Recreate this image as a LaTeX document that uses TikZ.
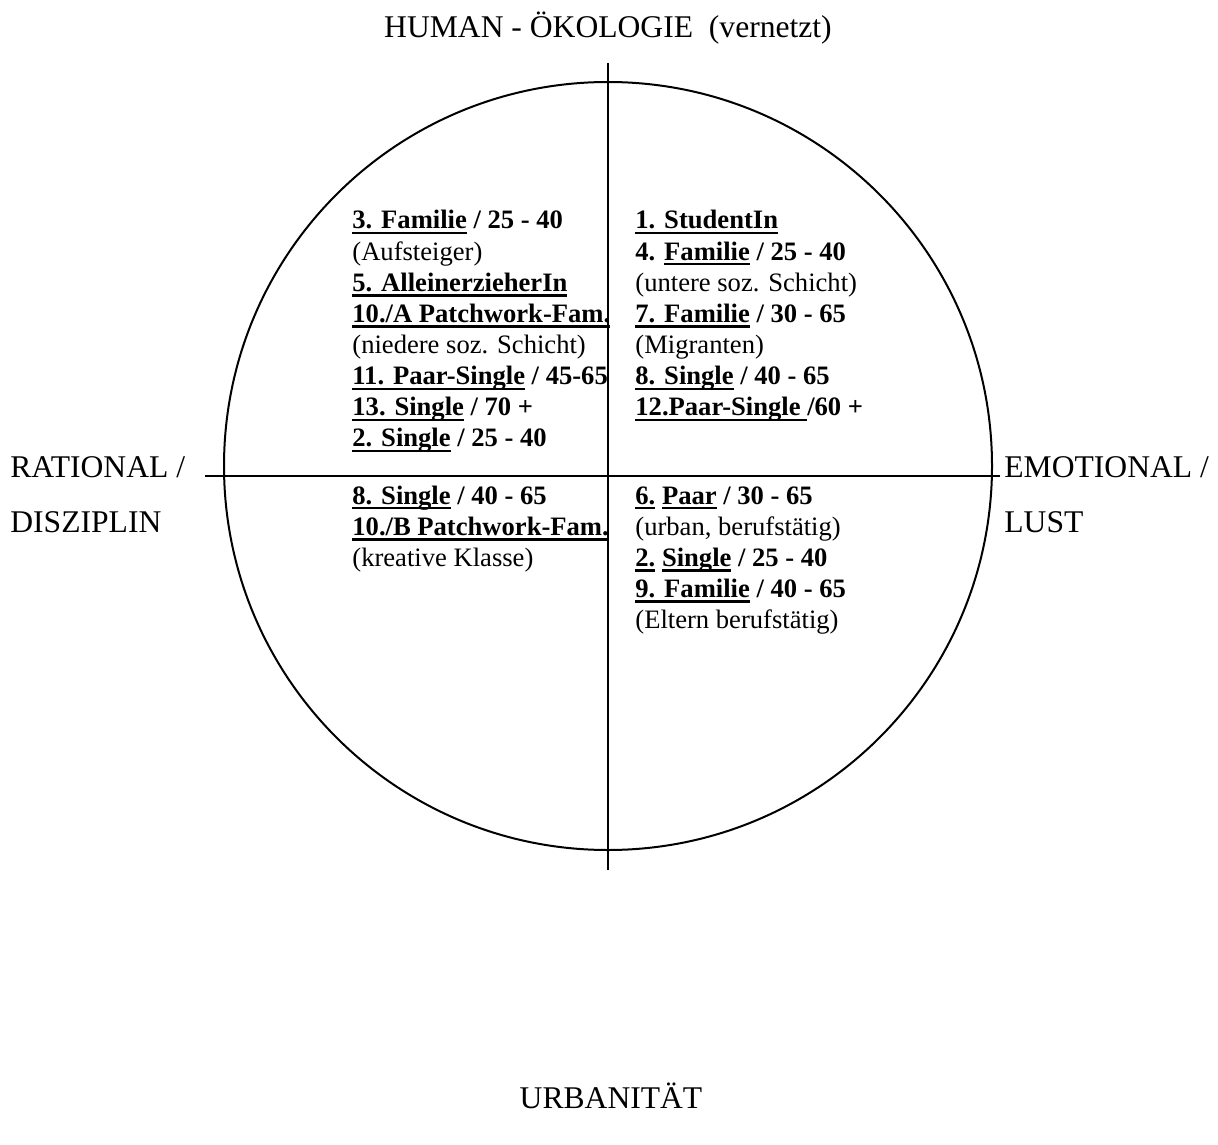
\documentclass[tikz,border=0pt]{standalone}
\usepackage{fontspec}
\setmainfont{Liberation Serif}

% underline at a fixed depth below the baseline
\newcommand\ulx[1]{\setbox0\hbox{#1}\leavevmode\rlap{\vrule height -1.5pt depth 2.7pt width \wd0}\box0\relax}
% a stack of lines whose reference point is the first baseline
\newcommand\stackrows[2]{\vtop{\baselineskip=#1\lineskiplimit=-10pt #2}}
\newcommand\brow[1]{\hbox{\bfseries #1}}
\newcommand\nrow[1]{\hbox{#1}}

\tikzset{
  axisline/.style={line width=1pt},
  axislabel/.style={font=\fontsize{15.8pt}{19pt}\selectfont, inner sep=0pt},
  group/.style={font=\fontsize{13.3pt}{15.55pt}\selectfont, inner sep=0pt, anchor=base west},
}

\begin{document}
\begin{tikzpicture}[x=0.5pt,y=-0.5pt]
\useasboundingbox (0,0) rectangle (1218,1144);

% circle and the two axes
\node[circle, draw, line width=1pt, minimum size=384pt, inner sep=0pt] (ring) at (608,466) {};
\coordinate (north) at (608,63);
\coordinate (south) at (608,870);
\coordinate (west) at (205,476);
\coordinate (east) at (1000,476);
\draw[axisline] (north) -- (south);
\draw[axisline] (west) -- (east);

% axis labels
\node[axislabel, anchor=base] (human) at (608,38) {HUMAN - ÖKOLOGIE \ (vernetzt)};
\node[axislabel, anchor=base] (urban) at (611,1108) {URBANITÄT};
\node[axislabel, anchor=base west] (rational) at (10,477)
  {\stackrows{27.5pt}{\nrow{RATIONAL /}\nrow{DISZIPLIN}}};
\node[axislabel, anchor=base west] (emotional) at (1004,477)
  {\stackrows{27.5pt}{\nrow{EMOTIONAL /}\nrow{LUST}}};

% upper left quadrant
\node[group] (ul) at (352,229) {\stackrows{15.55pt}{%
  \brow{\ulx{3. Familie} / 25 - 40}
  \nrow{(Aufsteiger)}
  \brow{\ulx{5. AlleinerzieherIn}}
  \brow{\ulx{10./A Patchwork-Fam.}}
  \nrow{(niedere soz. Schicht)}
  \brow{\ulx{11. Paar-Single} / 45-65}
  \brow{\ulx{13. Single} / 70 +}
  \brow{\ulx{2. Single} / 25 - 40}}};

% upper right quadrant
\node[group] (ur) at (635,229) {\stackrows{15.55pt}{%
  \brow{\ulx{1. StudentIn}}
  \brow{4. \ulx{Familie} / 25 - 40}
  \nrow{(untere soz. Schicht)}
  \brow{\ulx{7. Familie} / 30 - 65}
  \nrow{(Migranten)}
  \brow{\ulx{8. Single} / 40 - 65}
  \brow{\ulx{12.Paar-Single }/60 +}}};

% lower left quadrant
\node[group] (ll) at (352,504) {\stackrows{15.55pt}{%
  \brow{\ulx{8. Single} / 40 - 65}
  \brow{\ulx{10./B Patchwork-Fam.}}
  \nrow{(kreative Klasse)}}};

% lower right quadrant
\node[group] (lr) at (635,504) {\stackrows{15.55pt}{%
  \brow{\ulx{6.} \ulx{Paar} / 30 - 65}
  \nrow{(urban, berufstätig)}
  \brow{\ulx{2.} \ulx{Single} / 25 - 40}
  \brow{\ulx{9. Familie} / 40 - 65}
  \nrow{(Eltern berufstätig)}}};
\end{tikzpicture}
\end{document}
